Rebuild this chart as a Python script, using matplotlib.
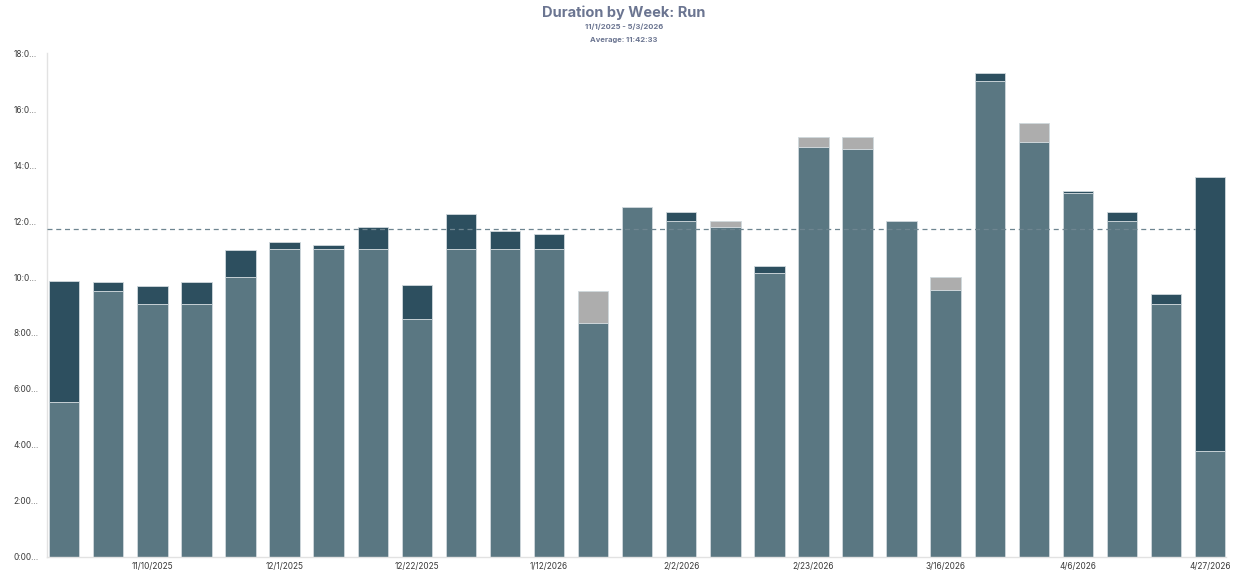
import matplotlib
matplotlib.use("Agg")
import matplotlib.pyplot as plt
import numpy as np

weeks = ["10/27/2025", "11/3/2025", "11/10/2025", "11/17/2025", "11/24/2025", "12/1/2025",
         "12/8/2025", "12/15/2025", "12/22/2025", "12/29/2025", "1/5/2026", "1/12/2026",
         "1/19/2026", "1/26/2026", "2/2/2026", "2/9/2026", "2/16/2026", "2/23/2026",
         "3/2/2026", "3/9/2026", "3/16/2026", "3/23/2026", "3/30/2026", "4/6/2026",
         "4/13/2026", "4/20/2026", "4/27/2026"]

# hours per week, by segment
base_hours = [5.52, 9.51, 9.03, 9.04, 10.00, 11.02, 11.02, 11.02, 8.50, 11.02, 11.02, 11.02,
              8.37, 12.50, 12.01, 11.78, 10.14, 14.64, 14.58, 11.99, 9.53, 17.01, 14.83,
              13.01, 12.01, 9.03, 3.78]
dark_hours = [4.35, 0.33, 0.65, 0.77, 0.97, 0.22, 0.14, 0.78, 1.22, 1.23, 0.62, 0.51,
              0.00, 0.00, 0.33, 0.00, 0.27, 0.00, 0.00, 0.00, 0.00, 0.30, 0.00,
              0.06, 0.32, 0.35, 9.80]
gray_hours = [0.00, 0.00, 0.00, 0.00, 0.00, 0.00, 0.00, 0.00, 0.00, 0.00, 0.00, 0.00,
              1.14, 0.00, 0.00, 0.23, 0.00, 0.36, 0.42, 0.00, 0.47, 0.00, 0.67,
              0.00, 0.00, 0.00, 0.00]
average_hours = 11 + 42 / 60 + 33 / 3600

title = "Duration by Week: Run"
subtitle = "11/1/2025 - 5/3/2026"
avg_text = "Average: 11:42:33"
ytick_labels = ["0:00...", "2:00...", "4:00...", "6:00...", "8:00...", "10:0...",
                "12:0...", "14:0...", "16:0...", "18:0..."]

plt.rcParams['font.family'] = ['Inter', 'DejaVu Sans']

fig = plt.figure(figsize=(12.48, 5.86), dpi=100)
ax = fig.add_axes([47 / 1248, 1 - 556.7 / 586, (1226 - 47) / 1248, (556.7 - 53.3) / 586])

x = np.arange(len(weeks))
base = np.array(base_hours)
dark = np.array(dark_hours)
gray = np.array(gray_hours)
w = 0.69
edge = '#D0D9DD'
xmin, xmax = -0.39, 26.36

ax.bar(x, base, width=w, color='#5A7782', edgecolor=edge, linewidth=0.6, zorder=2)
m = dark > 0
ax.bar(x[m], dark[m], bottom=base[m], width=w, color='#2D4F5F', edgecolor=edge, linewidth=0.6, zorder=2)
m = gray > 0
ax.bar(x[m], gray[m], bottom=(base + dark)[m], width=w, color='#ADADAD', edgecolor=edge, linewidth=0.6, zorder=2)

ax.hlines(average_hours, xmin, x[-1] - w / 2, colors='#6E8590', linestyles=(0, (4, 3)),
          linewidth=0.9, zorder=3)

ax.set_xlim(xmin, xmax)
ax.set_ylim(0, 18)

ax.set_yticks(np.arange(0, 19, 2))
ax.set_yticklabels(ytick_labels)
for lbl in ax.get_yticklabels():
    lbl.set_horizontalalignment('left')
ax.tick_params(axis='y', length=0, pad=24, labelsize=6, labelcolor='#3A3A3A')

xt = list(range(2, len(weeks), 3))
ax.set_xticks(xt)
ax.set_xticklabels([weeks[i] for i in xt])
ax.tick_params(axis='x', length=0, pad=4, labelsize=6, labelcolor='#3A3A3A')

for s in ['top', 'right']:
    ax.spines[s].set_visible(False)
for s in ['left', 'bottom']:
    ax.spines[s].set_color('#E2E2E2')
    ax.spines[s].set_linewidth(1.0)

tc = '#6B7591'
fig.text(0.5, 1 - 13 / 586, title, ha='center', va='center', fontsize=10.5,
         fontweight='bold', color=tc)
fig.text(0.5, 1 - 27 / 586, subtitle, ha='center', va='center', fontsize=5.5,
         fontweight='bold', color=tc)
fig.text(0.5, 1 - 40 / 586, avg_text, ha='center', va='center', fontsize=5.5,
         fontweight='bold', color=tc)

fig.savefig("out.png", dpi=100, facecolor='white')
